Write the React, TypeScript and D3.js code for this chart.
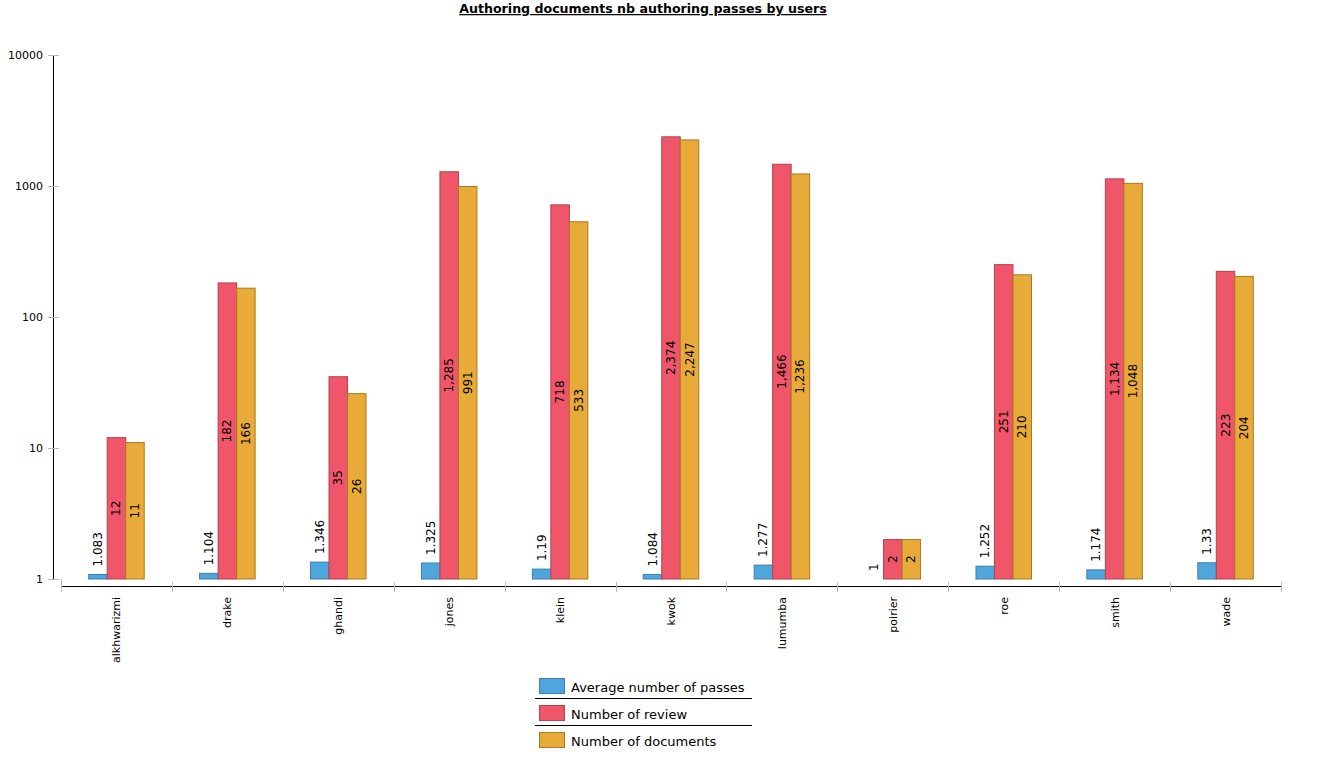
import React from "react";
import * as d3 from "d3";

const users = ["alkhwarizmi", "drake", "ghandi", "jones", "klein", "kwok", "lumumba", "poirier", "roe", "smith", "wade"];
const avgPasses = [1.083, 1.104, 1.346, 1.325, 1.19, 1.084, 1.277, 1, 1.252, 1.174, 1.33];
const reviews = [12, 182, 35, 1285, 718, 2374, 1466, 2, 251, 1134, 223];
const documents = [11, 166, 26, 991, 533, 2247, 1236, 2, 210, 1048, 204];
const yTicks = [1, 10, 100, 1000, 10000];
const seriesNames = ["Average number of passes", "Number of review", "Number of documents"];
const fills = ["#4ea6dc", "#f0566a", "#e8aa38"];
const strokes = ["#3a80b0", "#b5404f", "#a87a22"];

const W = 1323, H = 763;
const FONT = "'DejaVu Sans', Verdana, sans-serif";

export default function App() {
  const y = d3.scaleLog().domain([1, 10000]).range([579, 55]);
  const x = d3.scaleBand().domain(users).range([61, 1281]).paddingInner(0).paddingOuter(0);
  const groupW = 55.5;
  const inner = d3.scaleBand().domain(["0", "1", "2"]).range([0, groupW]);
  const series = [avgPasses, reviews, documents];
  const fmt = d3.format(",");

  return (
    <svg width={W} height={H} style={{ position: "absolute", left: 0, top: 0, background: "#fff" }} fontFamily={FONT}>
      <text x={643} y={13} textAnchor="middle" fontSize={12.6} fontWeight="bold" textDecoration="underline" fill="#000">
        Authoring documents nb authoring passes by users
      </text>
      {/* y axis */}
      <line x1={53.5} x2={53.5} y1={55} y2={579} stroke="#000" strokeWidth={1} />
      {yTicks.map((t) => (
        <g key={t}>
          <line x1={48} x2={59} y1={Math.round(y(t)) + 0.5} y2={Math.round(y(t)) + 0.5} stroke="#bbb" />
          <text x={43} y={y(t)} dy="0.35em" textAnchor="end" fontSize={11} fill="#000">{t}</text>
        </g>
      ))}
      {/* x axis */}
      <line x1={61} x2={1281} y1={586.5} y2={586.5} stroke="#000" />
      {users.map((u, i) => (
        <line key={"t" + i} x1={Math.round(x(u)!) + 0.5} x2={Math.round(x(u)!) + 0.5} y1={582} y2={592} stroke="#bbb" />
      ))}
      <line x1={1281.5} x2={1281.5} y1={582} y2={592} stroke="#bbb" />
      <line x1={61.5} x2={61.5} y1={579} y2={592} stroke="#bbb" />
      {users.map((u) => {
        const cx = x(u)! + x.bandwidth() / 2;
        return (
          <text key={"l" + u} transform={`translate(${cx + 4},597) rotate(-90)`} textAnchor="end" fontSize={11} fill="#000">{u}</text>
        );
      })}
      {/* bars */}
      {users.map((u, i) => {
        const gx = x(u)! + (x.bandwidth() - groupW) / 2;
        return (
          <g key={"g" + u}>
            {series.map((s, k) => {
              const v = s[i];
              const bx = gx + inner(String(k))!;
              const bw = inner.bandwidth();
              const top = y(v);
              const h = y(1) - top;
              const cx = bx + bw / 2;
              return (
                <g key={k}>
                  {h > 0 && (
                    <rect x={bx} y={top} width={bw} height={h} fill={fills[k]} stroke={strokes[k]} strokeWidth={1} />
                  )}
                  {k === 0 ? (
                    <text transform={`translate(${cx + 4},${top - 8}) rotate(-90)`} textAnchor="start" fontSize={12} fill="#000">{fmt(v)}</text>
                  ) : (
                    <text transform={`translate(${cx + 4},${top + h / 2}) rotate(-90)`} textAnchor="middle" fontSize={12} fill="#000">{fmt(v)}</text>
                  )}
                </g>
              );
            })}
          </g>
        );
      })}
      {/* legend */}
      {seriesNames.map((n, k) => (
        <g key={n} transform={`translate(0,${k * 27})`}>
          <rect x={539.5} y={678.5} width={25} height={15} fill={fills[k]} stroke={strokes[k]} />
          <text x={571} y={691.5} fontSize={13} fill="#000">{n}</text>
          {k < 2 && <line x1={535} x2={752} y1={698.5} y2={698.5} stroke="#000" />}
        </g>
      ))}
    </svg>
  );
}
